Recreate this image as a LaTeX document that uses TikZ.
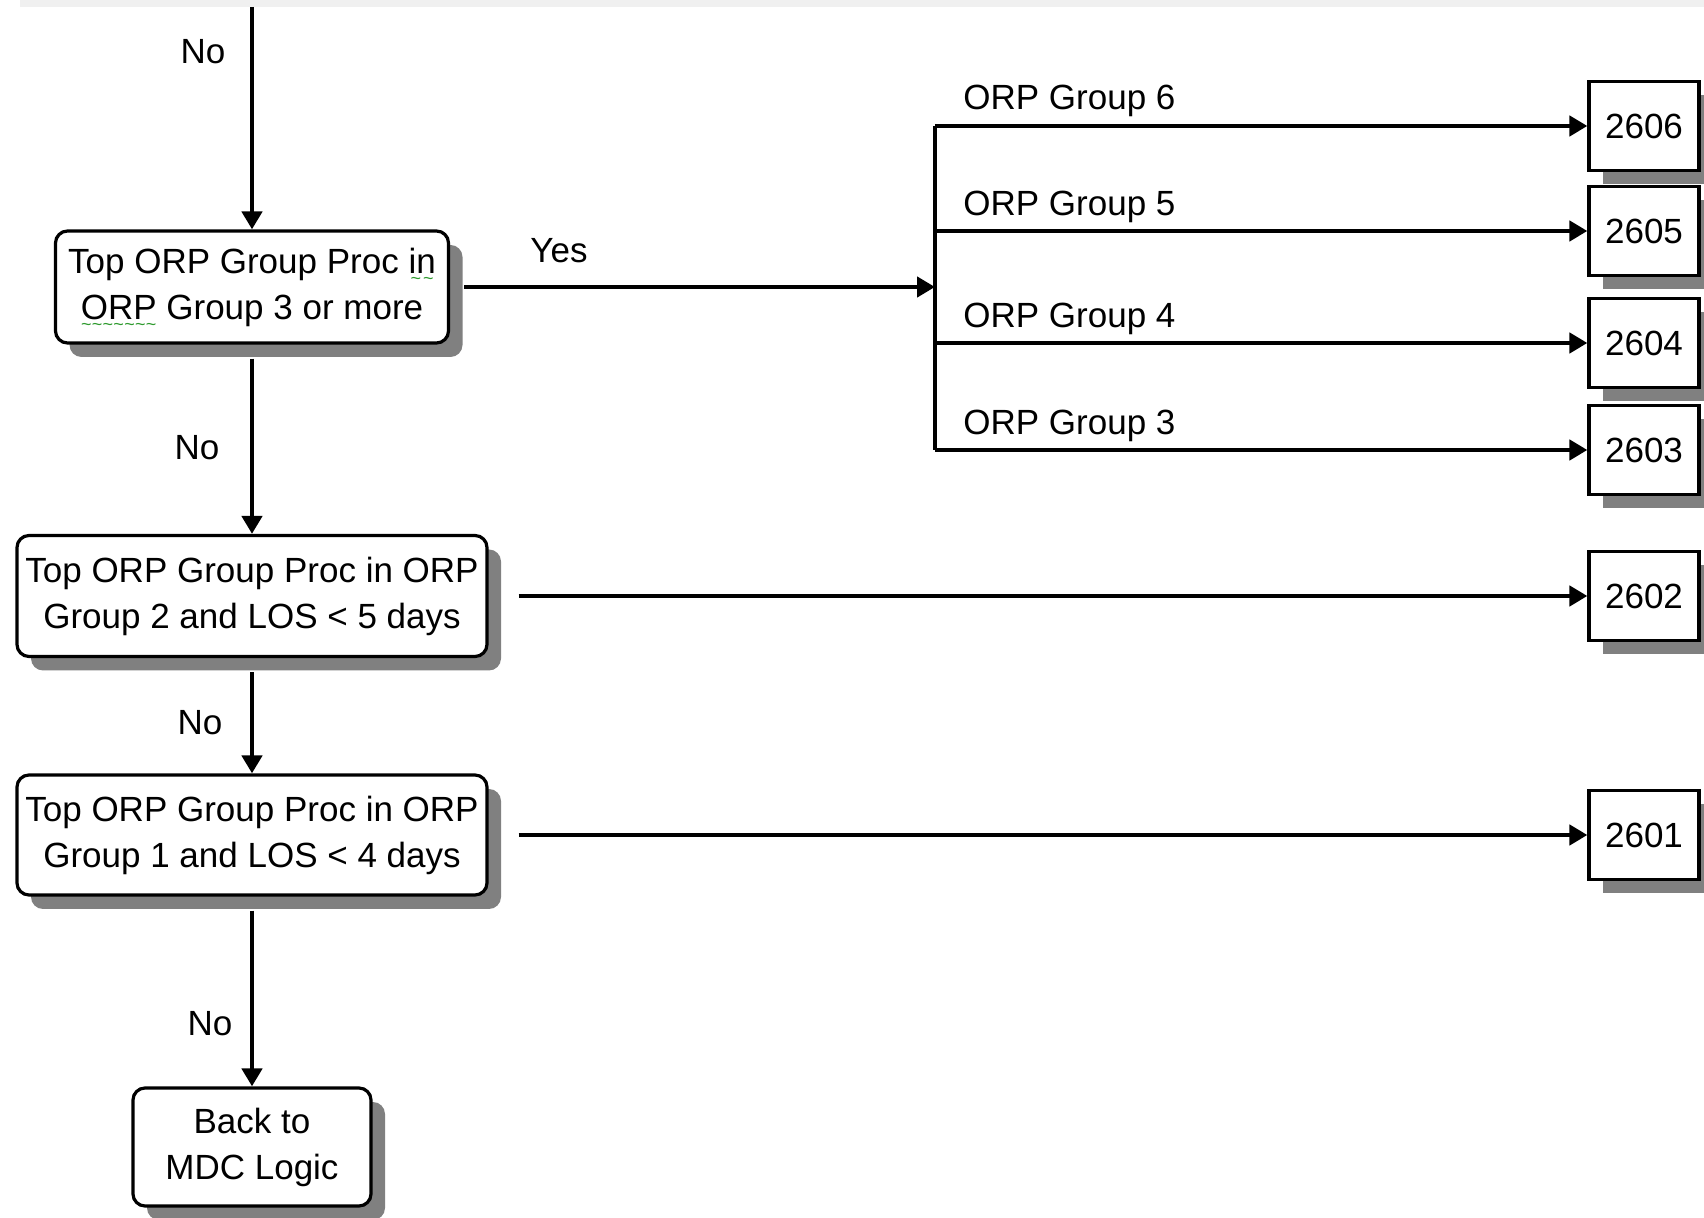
\documentclass[tikz,border=0pt]{standalone}
\usepackage{fontspec}
\setmainfont{Liberation Sans}
\usetikzlibrary{arrows.meta}
\usetikzlibrary{shadows}
\definecolor{ShadowGray}{HTML}{808080}
\definecolor{BandGray}{HTML}{F0F0F0}
\definecolor{SpellGreen}{HTML}{2E9A2E}
\newsavebox{\spellbox}
\newcommand{\spellmark}[1]{\sbox{\spellbox}{#1}\rlap{\raisebox{-5.6pt}[0pt][0pt]{\hbox to \wd\spellbox{\color{SpellGreen}\fontsize{9}{9}\selectfont\xleaders\hbox{\char"7E}\hfill}}}\usebox{\spellbox}}

\begin{document}
\begin{tikzpicture}[x = 0.5pt, y = -0.5pt]
\tikzstyle{BoxStyle}=[shape = rectangle, rounded corners = 6pt, draw, line width = 1.6pt,
fill = white, align = center, inner sep = 0pt, font = \fontsize{17.5}{23}\selectfont,
drop shadow = {shadow xshift = 7pt, shadow yshift = -7pt, fill = ShadowGray, opacity = 1}]
\tikzstyle{CodeStyle}=[shape = rectangle, draw, line width = 1.6pt, fill = white,
minimum width = 55pt, minimum height = 44.5pt, inner sep = 0pt, font = \fontsize{17.5}{23}\selectfont,
drop shadow = {shadow xshift = 7pt, shadow yshift = -7pt, fill = ShadowGray, opacity = 1}]
\tikzstyle{LabelStyle}=[inner sep = 0pt, font = \fontsize{17.5}{23}\selectfont]
\tikzstyle{EdgeStyle}=[line width = 2.4pt, -{Triangle[length = 9pt, width = 10pt]}]
\tikzstyle{LineStyle}=[line width = 2.4pt]
\useasboundingbox (0, 0) rectangle (1704, 1218);
\fill[BandGray] (20, 0) rectangle (1704, 7);
\coordinate (top) at (252, 7);
\node[BoxStyle, minimum width = 196.5pt, minimum height = 56pt] (q0) at (252, 287)
{Top ORP Group Proc \spellmark{in}\\\spellmark{ORP} Group 3 or more};
\node[BoxStyle, minimum width = 235pt, minimum height = 60.5pt] (q1) at (252, 596)
{Top ORP Group Proc in ORP\\Group 2 and LOS < 5 days};
\node[BoxStyle, minimum width = 235pt, minimum height = 60pt] (q2) at (252, 835)
{Top ORP Group Proc in ORP\\Group 1 and LOS < 4 days};
\node[BoxStyle, minimum width = 119pt, minimum height = 59pt] (back) at (252, 1147)
{Back to\\MDC Logic};
\coordinate (j6) at (935, 126);
\coordinate (j5) at (935, 231);
\coordinate (j4) at (935, 343);
\coordinate (j3) at (935, 450);
\node[CodeStyle] (d2606) at (1644, 126) {2606};
\node[CodeStyle] (d2605) at (1644, 231) {2605};
\node[CodeStyle] (d2604) at (1644, 343) {2604};
\node[CodeStyle] (d2603) at (1644, 450) {2603};
\node[CodeStyle] (d2602) at (1644, 596) {2602};
\node[CodeStyle] (d2601) at (1644, 835) {2601};
\node[LabelStyle, anchor = base west] (g6) at (963, 110) {ORP Group 6};
\node[LabelStyle, anchor = base west] (g5) at (963, 216) {ORP Group 5};
\node[LabelStyle, anchor = base west] (g4) at (963, 328) {ORP Group 4};
\node[LabelStyle, anchor = base west] (g3) at (963, 435) {ORP Group 3};
\node[LabelStyle] (n0) at (203, 52) {No};
\node[LabelStyle] (y0) at (559, 251) {Yes};
\node[LabelStyle] (n1) at (197, 448) {No};
\node[LabelStyle] (n2) at (200, 723) {No};
\node[LabelStyle] (n3) at (210, 1024) {No};
\draw[EdgeStyle] (top) -- (q0);
\draw[EdgeStyle] ([yshift = -7pt]q0.south) -- (q1);
\draw[EdgeStyle] ([yshift = -7pt]q1.south) -- (q2);
\draw[EdgeStyle] ([yshift = -7pt]q2.south) -- (back);
\draw[EdgeStyle] ([xshift = 7pt]q0.east) -- (q0.east -| j6);
\draw[LineStyle] (j6) -- (j3);
\draw[EdgeStyle] (j6) -- (d2606);
\draw[EdgeStyle] (j5) -- (d2605);
\draw[EdgeStyle] (j4) -- (d2604);
\draw[EdgeStyle] (j3) -- (d2603);
\draw[EdgeStyle] ([xshift = 15pt]q1.east) -- (d2602);
\draw[EdgeStyle] ([xshift = 15pt]q2.east) -- (d2601);
\end{tikzpicture}
\end{document}
